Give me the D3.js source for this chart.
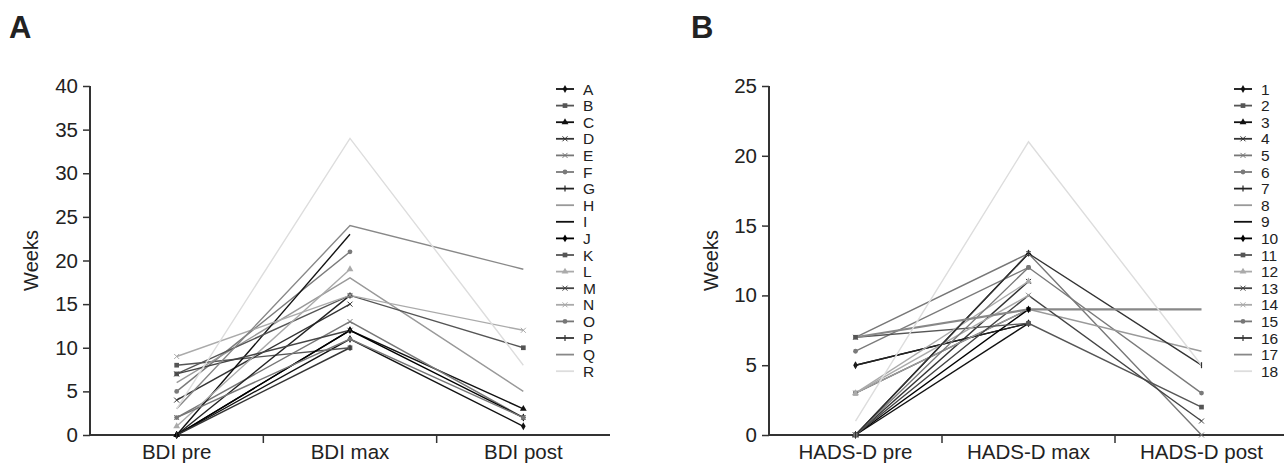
<!DOCTYPE html>
<html><head><meta charset="utf-8">
<script src="https://cdn.jsdelivr.net/npm/d3@7/dist/d3.min.js"></script>
<style>body{margin:0;background:#fff}svg{display:block}text{font-family:"Liberation Sans",Arial,sans-serif}</style>
</head><body><svg id="c" width="1284" height="468"></svg>
<script>
// ---------- data ----------
const catsA = ["BDI pre", "BDI max", "BDI post"];
const catsB = ["HADS-D pre", "HADS-D max", "HADS-D post"];
const namesA = ["A","B","C","D","E","F","G","H","I","J","K","L","M","N","O","P","Q","R"];
const namesB = ["1","2","3","4","5","6","7","8","9","10","11","12","13","14","15","16","17","18"];
const ticksA = [0,5,10,15,20,25,30,35,40];
const ticksB = [0,5,10,15,20,25];
// [pre, max, post] per series; null = missing
const valuesA = [
  [0,11,1],[8,10,null],[0,12,3],[4,15,null],[2,13,2],[5,21,null],
  [0,16,null],[6,18,5],[0,23,null],[0,12,2],[7,16,10],[1,19,null],
  [7,12,null],[9,16,12],[2,11,2],[0,10,null],[3,24,19],[3,34,8]
];
const valuesB = [
  [5,8,null],[3,9,null],[0,13,null],[0,11,null],[7,13,0],[6,12,3],
  [5,8,null],[3,9,6],[0,8,null],[0,9,null],[7,8,2],[3,11,null],
  [0,10,1],[3,10,null],[0,12,null],[0,13,5],[7,9,9],[1,21,5]
];
const seriesColors = ["#111","#555","#111","#333","#777","#7a7a7a","#222","#999","#111",
                      "#000","#555","#aaa","#444","#aaa","#777","#333","#888","#ddd"];
const seriesMarkers = ["diamond","square","triangle","x","x","circle","plus","none","none",
                       "diamond","square","triangle","x","x","circle","plus","none","none"];

// ---------- drawing ----------
const svg = d3.select("#c");

function marker(g, type, x, y, color){
  if(type==="none") return;
  if(type==="diamond") g.append("path").attr("d", d3.symbol(d3.symbolDiamond, 18)()).attr("transform",`translate(${x},${y})`).attr("fill",color);
  else if(type==="square") g.append("path").attr("d", d3.symbol(d3.symbolSquare, 22)()).attr("transform",`translate(${x},${y})`).attr("fill",color);
  else if(type==="triangle") g.append("path").attr("d", d3.symbol(d3.symbolTriangle, 20)()).attr("transform",`translate(${x},${y})`).attr("fill",color);
  else if(type==="circle") g.append("path").attr("d", d3.symbol(d3.symbolCircle, 18)()).attr("transform",`translate(${x},${y})`).attr("fill",color);
  else if(type==="x") g.append("path").attr("d", d3.symbol(d3.symbolX, 18)()).attr("transform",`translate(${x},${y})`).attr("fill","none").attr("stroke",color).attr("stroke-width",1);
  else if(type==="plus") g.append("line").attr("x1",x).attr("x2",x).attr("y1",y-3).attr("y2",y+3).attr("stroke",color).attr("stroke-width",1.2);
}

function panel(opt){
  const g = svg.append("g");
  const x = d3.scaleBand().domain(opt.cats).range([opt.x0, opt.x1]);
  const y = d3.scaleLinear().domain([0, opt.ymax]).range([435, 86]);
  const cx = c => x(c) + x.bandwidth()/2;

  // panel letter
  g.append("text").attr("x", opt.letterX).attr("y", 38).attr("font-size", 31).attr("font-weight","bold").attr("fill","#222").text(opt.letter);

  // y axis
  const ya = g.append("g").attr("transform",`translate(${opt.x0},0)`)
    .call(d3.axisLeft(y).tickValues(opt.ticks).tickSize(7).tickPadding(5));
  ya.select(".domain").attr("stroke","#333").attr("stroke-width",2).attr("d",`M0,${y(opt.ymax)}V${y(0)}`);
  ya.selectAll(".tick line").attr("stroke","#333").attr("stroke-width",1.5);
  ya.selectAll(".tick text").attr("font-size",20.5).attr("fill","#222").attr("font-family",'"Liberation Sans",Arial,sans-serif');

  // x axis
  const xa = g.append("g").attr("transform",`translate(0,435)`);
  xa.append("line").attr("x1",opt.x0-1).attr("x2",opt.x1).attr("y1",0).attr("y2",0).attr("stroke","#333").attr("stroke-width",2);
  opt.cats.forEach((c,i)=>{
    if(i>0) xa.append("line").attr("x1",x(c)).attr("x2",x(c)).attr("y1",0).attr("y2",8).attr("stroke","#333").attr("stroke-width",1.5);
    xa.append("text").attr("x",cx(c)).attr("y",24).attr("text-anchor","middle").attr("font-size",20.5).attr("fill","#222").text(c);
  });

  // axis title
  g.append("text").attr("transform",`translate(${opt.titleX},${(y(0)+y(opt.ymax))/2}) rotate(-90)`)
    .attr("text-anchor","middle").attr("font-size",20).attr("fill","#222").text("Weeks");

  // lines
  const line = d3.line().defined(d=>d.v!=null).x(d=>cx(d.c)).y(d=>y(d.v));
  opt.values.forEach((vals,i)=>{
    const pts = vals.map((v,j)=>({c:opt.cats[j], v}));
    g.append("path").attr("d", line(pts)).attr("fill","none")
      .attr("stroke", seriesColors[i]).attr("stroke-width", i===16 && opt.letter==="B" ? 2.2 : 1.4);
  });
  opt.values.forEach((vals,i)=>{
    vals.forEach((v,j)=>{ if(v!=null) marker(g, seriesMarkers[i], cx(opt.cats[j]), y(v), seriesColors[i]); });
  });

  // legend
  const lg = g.append("g");
  opt.names.forEach((n,i)=>{
    const ly = 89 + i*16.6;
    lg.append("line").attr("x1",opt.legX).attr("x2",opt.legX+18).attr("y1",ly).attr("y2",ly).attr("stroke",seriesColors[i]).attr("stroke-width",1.8);
    marker(lg, seriesMarkers[i], opt.legX+9, ly, seriesColors[i]);
    lg.append("text").attr("x",opt.legX+27).attr("y",ly+5.5).attr("font-size",15.5).attr("fill","#222").text(n);
  });
}

panel({letter:"A", letterX:9, cats:catsA, names:namesA, values:valuesA, ticks:ticksA, ymax:40,
       x0:90, x1:610, titleX:38, legX:556});
panel({letter:"B", letterX:691, cats:catsB, names:namesB, values:valuesB, ticks:ticksB, ymax:25,
       x0:769, x1:1288, titleX:718, legX:1234});
</script></body></html>
